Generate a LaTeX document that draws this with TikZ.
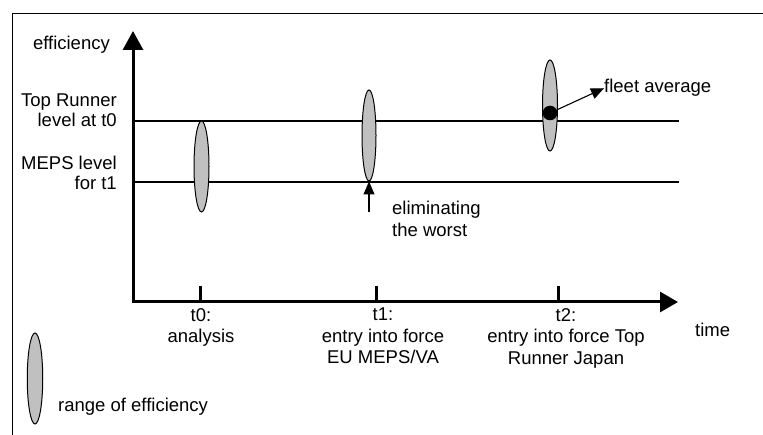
\documentclass[tikz,border=0pt]{standalone}
\usepackage{fontspec}
\setmainfont{Liberation Sans}
\usetikzlibrary{arrows.meta,shapes.geometric}
\definecolor{rangegray}{RGB}{192,192,192}
\tikzset{
  thinline/.style={line width=1.1pt, draw=black},
  axisline/.style={line width=3pt, draw=black},
  rangebox/.style={ellipse, draw=black, line width=1pt, fill=rangegray, inner sep=0pt,
    minimum width=15pt, minimum height=91pt},
  lbl/.style={inner sep=0pt, font=\fontsize{18.5}{21.5}\selectfont},
  smalltip/.style={-{Triangle[length=13pt,width=11pt]}},
}
\begin{document}
\begin{tikzpicture}[x=1pt,y=-1pt]
\useasboundingbox (0,0) rectangle (763,435);
% frame
\coordinate (ftl) at (12,14);
\coordinate (ftr) at (763,14);
\coordinate (fbl) at (12,435);
\draw[line width=1pt] (ftr) -- (ftl) -- (fbl);
% level lines
\coordinate (trA) at (133,121);
\coordinate (trB) at (679,121);
\coordinate (mpA) at (133,182);
\coordinate (mpB) at (679,182);
\draw[thinline] (trA) -- (trB);
\draw[thinline] (mpA) -- (mpB);
% axes
\coordinate (origin) at (133,302);
\coordinate (ytip) at (133,31);
\coordinate (xtip) at (678,302);
\draw[axisline, {Triangle[length=19pt,width=20pt]}-{Triangle[length=18pt,width=20pt]}, line join=miter]
  (ytip) -- (origin) -- (xtip);
% ticks
\coordinate (k0a) at (200,286); \coordinate (k0b) at (200,302);
\coordinate (k1a) at (376,286); \coordinate (k1b) at (376,302);
\coordinate (k2a) at (558,286); \coordinate (k2b) at (558,302);
\draw[axisline] (k0a) -- (k0b);
\draw[axisline] (k1a) -- (k1b);
\draw[axisline] (k2a) -- (k2b);
% ranges
\node[rangebox] (e0) at (201.5,166.5) {};
\node[rangebox, minimum width=14pt] (e1) at (369,135.5) {};
\node[rangebox] (e2) at (550,105.5) {};
\node[circle, fill=black, inner sep=0pt, minimum size=14.6pt] (dot) at (550,113) {};
\node[rangebox, minimum width=15.5pt] (leg) at (35,378.5) {};
% labels
\node[lbl, anchor=base east] (eff) at (110,50) {efficiency};
\node[lbl, anchor=north east, align=right, font=\fontsize{18.5}{20}\selectfont] (toplbl) at (117,94) {Top Runner\\level at t0};
\node[lbl, anchor=north east, align=right, font=\fontsize{18.5}{20}\selectfont] (mepslbl) at (117,156) {MEPS level\\for t1};
\node[lbl, anchor=north, align=center] (t0) at (201,308) {t0:\\analysis};
\node[lbl, anchor=north, align=center] (t1) at (383,308) {t1:\\entry into force\\EU MEPS/VA};
\node[lbl, anchor=north, align=center] (t2) at (566,308) {t2:\\entry into force Top\\Runner Japan};
\node[lbl, anchor=base west] (time) at (695,337) {time};
\node[lbl, anchor=base west] (rng) at (58,412) {range of efficiency};
\node[lbl, anchor=base west] (fleet) at (604,93) {fleet average};
\node[lbl, anchor=north west, align=left] (elim) at (392,201) {eliminating\\the worst};
% pointers
\coordinate (elimstart) at (369,212);
\draw[line width=1.1pt, smalltip] (elimstart) -- (e1.south);
\draw[line width=1.1pt, smalltip] (dot) -- (fleet.west);
\end{tikzpicture}
\end{document}
